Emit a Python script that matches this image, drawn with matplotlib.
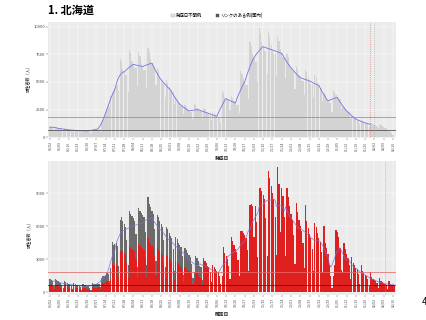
import matplotlib
matplotlib.use("Agg")
import matplotlib.pyplot as plt
from matplotlib.patches import Patch
import numpy as np
import pandas as pd

plt.rcParams['font.family'] = ['Noto Sans CJK JP', 'DejaVu Sans']

# ---------------- data ----------------
title = "1. 北海道"
ylabel = "陽性者数（人）"
xlabel_top = "発症日"
xlabel_bottom = "確定日"
legend_labels = ["発症日不明例", "リンクのある例(国内)"]
page_number = "4"

tick_labels = ["06/02", "06/09", "06/16", "06/23", "06/30", "07/07", "07/14",
               "07/21", "07/28", "08/04", "08/11", "08/18", "08/25", "09/01",
               "09/08", "09/15", "09/22", "09/29", "10/06", "10/13", "10/20",
               "10/27", "11/03", "11/10", "11/17", "11/24", "12/01", "12/08",
               "12/15", "12/22", "12/29", "01/05", "01/12", "01/19", "01/26",
               "02/02", "02/09", "02/16"]

# daily counts by onset date (from 06/02)
onset = [1000, 950, 950, 700,
         960, 920, 840, 800, 760, 760, 560,
         820, 780, 710, 680, 650, 650, 480,
         720, 690, 630, 600, 570, 570, 420,
         700, 670, 610, 580, 550, 550, 410,
         780, 760, 730, 700, 700, 720, 510,
         1300, 1600, 2000, 2300, 2600, 2900, 2700,
         3700, 4100, 4300, 4500, 4600, 4700, 4200,
         7080, 6790, 6200, 5900, 5600, 5600, 4130,
         7920, 7590, 6930, 6600, 6270, 6270, 4620,
         7680, 7360, 6720, 6400, 6080, 6080, 4480,
         8040, 7700, 7040, 6700, 6370, 6370, 4690,
         6240, 5980, 5460, 5200, 4940, 4940, 3640,
         5160, 4950, 4520, 4300, 4090, 4090, 3010,
         3600, 3450, 3150, 3000, 2850, 2850, 2100,
         2880, 2760, 2520, 2400, 2280, 2280, 1680,
         3000, 2880, 2630, 2500, 2380, 2380, 1750,
         2640, 2530, 2310, 2200, 2090, 2090, 1540,
         2280, 2190, 2000, 1900, 1810, 1810, 1330,
         4200, 4030, 3680, 3500, 3330, 3330, 2450,
         3720, 3570, 3260, 3100, 2950, 2950, 2170,
         6000, 5750, 5250, 5000, 4750, 4750, 3500,
         8640, 8280, 7560, 7200, 6840, 6840, 5040,
         9840, 9430, 8610, 8200, 7790, 7790, 5740,
         9480, 9090, 8300, 7900, 7510, 7510, 5530,
         9120, 8740, 7980, 7600, 7220, 7220, 5320,
         7560, 7250, 6620, 6300, 5990, 5990, 4410,
         6480, 6210, 5670, 5400, 5130, 5130, 3780,
         6120, 5870, 5360, 5100, 4850, 4850, 3570,
         5640, 5410, 4940, 4700, 4470, 4470, 3290,
         3960, 3800, 3470, 3300, 3140, 3140, 2310,
         4320, 4140, 3780, 3600, 3420, 3420, 2520,
         2880, 2760, 2520, 2400, 2280, 2280, 1680,
         1980, 1900, 1730, 1650, 1570, 1570, 1160,
         1560, 1500, 1370, 1300, 1240, 1240, 910,
         1300, 1250, 1200, 1150, 1100, 1050, 800,
         1200, 1100, 1000, 950, 870, 800, 600,
         700, 500, 350, 200, 60]

# daily counts by confirmation date (total)
confirmed_total = [1250, 1100, 1000, 550,
                   1190, 1100, 1010, 920, 880, 700, 350,
                   1010, 940, 860, 790, 750, 600, 300,
                   810, 750, 690, 630, 600, 480, 240,
                   730, 680, 620, 570, 540, 430, 220,
                   850, 780, 740, 760, 800, 800, 450,
                   1300, 1500, 1500, 1600, 1750, 1700, 1000,
                   2200, 4600, 4300, 4400, 4500, 4200, 2400,
                   6600, 6800, 6500, 6200, 5900, 4700, 2500,
                   7330, 7100, 6900, 6700, 6500, 5300, 2300,
                   7630, 7400, 7200, 7000, 6800, 5500, 2500,
                   8600, 8000, 7700, 7400, 7100, 5700, 2800,
                   7000, 6800, 6500, 6200, 5900, 4700, 2300,
                   5900, 5700, 5400, 5100, 4900, 3900, 1900,
                   5000, 4800, 4500, 4300, 4100, 3300, 1600,
                   4000, 3800, 3600, 3400, 3200, 2600, 1300,
                   1800, 3300, 3100, 2800, 2400, 2300, 1100,
                   3100, 2880, 2650, 2420, 2300, 1840, 920,
                   2500, 2310, 2130, 1940, 1850, 1480, 740,
                   1500, 4100, 3600, 3300, 3000, 2400, 1200,
                   5000, 4630, 4260, 3890, 3700, 2960, 1480,
                   5600, 5600, 5400, 5200, 4900, 3800, 1900,
                   7900, 8000, 7800, 5000, 7800, 6400, 3200,
                   9450, 9450, 9200, 8800, 8500, 6700, 3300,
                   10970, 10400, 9600, 9000, 8500, 6800, 3400,
                   11360, 9800, 5500, 9500, 8700, 6800, 3300,
                   9450, 8600, 7800, 7100, 6600, 5200, 2600,
                   8090, 7300, 6600, 6000, 5600, 4500, 2200,
                   7940, 6500, 5800, 5300, 4900, 3900, 1900,
                   6300, 5900, 5400, 4900, 4600, 3700, 1800,
                   6000, 4500, 4000, 3500, 2500, 1500, 400,
                   1500, 2500, 5660, 5500, 5000, 4000, 2000,
                   1800, 4450, 3900, 3500, 3100, 2500, 1200,
                   3240, 2700, 2450, 2250, 2100, 1700, 800,
                   2470, 1950, 1750, 1600, 1500, 1200, 600,
                   1870, 1400, 1230, 1130, 1050, 850, 420,
                   1300, 1020, 900, 830, 780, 630, 310,
                   1050, 800, 700, 650, 600]

# red part of confirmed counts until 09/25 (afterwards all red)
confirmed_red_early = [710, 630, 570, 310,
                       680, 630, 580, 520, 500, 400, 200,
                       580, 540, 490, 450, 430, 340, 170,
                       460, 430, 390, 360, 340, 270, 140,
                       420, 390, 350, 320, 310, 250, 130,
                       480, 440, 420, 430, 460, 460, 260,
                       740, 860, 860, 910, 1000, 970, 570,
                       1250, 2620, 2450, 2510, 2570, 2390, 1370,
                       3760, 3880, 3710, 3530, 3360, 2680, 1430,
                       4180, 4050, 3930, 3820, 3710, 3020, 1310,
                       4350, 4220, 4100, 3990, 3880, 3140, 1430,
                       4900, 4560, 4390, 4220, 4050, 3250, 1600,
                       3990, 3880, 3710, 3530, 3360, 2680, 1310,
                       3360, 3250, 3080, 2910, 2790, 2220, 1080,
                       2850, 2740, 2570, 2450, 2340, 1880, 910,
                       2280, 2170, 2050, 1940, 1820, 1480, 740,
                       1030, 1880, 1770, 1600, 1370, 1310, 630]

red_hline = 1850
dark_hline = 700
top_vlines_red = [242]
top_vlines_gray = [245]
bottom_vlines_red = [253]
top_line_end = 242

# ---------------- plot ----------------
fig = plt.figure(figsize=(4.27, 3.2), dpi=100)
bg = '#ebebeb'
tick_col = '#4d4d4d'
blue = '#7474e4'

ax1 = fig.add_axes([0.1124, 0.5678, 0.815, 0.3644])
ax2 = fig.add_axes([0.1124, 0.078, 0.815, 0.42])

x_top = np.arange(len(onset))
x_bot = np.arange(len(confirmed_total))
red_all = confirmed_red_early + confirmed_total[len(confirmed_red_early):]

for ax in (ax1, ax2):
    ax.set_facecolor(bg)
    for s in ax.spines.values():
        s.set_visible(False)
    ax.set_axisbelow(True)
    ax.grid(color='white', lw=0.35)
    ax.set_xlim(-1.5, 261.3)
    ax.set_xticks(np.arange(len(tick_labels)) * 7)
    ax.set_xticklabels(tick_labels, rotation=90)
    ax.tick_params(axis='x', labelsize=2.6, colors=tick_col, length=1.2,
                   width=0.3, pad=1)
    ax.tick_params(axis='y', labelsize=3, colors=tick_col, length=1.2,
                   width=0.3, pad=1)

# top panel
ax1.bar(x_top, onset, width=0.9, color='#d3d3d3', linewidth=0)
ma_top = pd.Series(onset).rolling(7, center=True, min_periods=4).mean()
ax1.plot(x_top[:top_line_end + 1], ma_top[:top_line_end + 1], color=blue, lw=0.6)
ax1.axhline(red_hline, color='#e86a6a', lw=0.7, alpha=0.8)
ax1.axhline(dark_hline, color='#555555', lw=0.6)
for v in top_vlines_red:
    ax1.axvline(v, color='#e06666', lw=0.5, ls=':')
for v in top_vlines_gray:
    ax1.axvline(v, color='#999999', lw=0.5, ls=':')
ax1.set_ylim(-90, 10450)
ax1.set_yticks([0, 2500, 5000, 7500, 10000])
ax1.set_ylabel(ylabel, fontsize=3, color='#222222')
ax1.yaxis.set_label_coords(-0.052, 0.52)
ax1.set_xlabel(xlabel_top, fontsize=3.4, color='#222222', fontweight='bold')
ax1.xaxis.set_label_coords(0.5, -0.155)

# bottom panel
ax2.bar(x_bot, confirmed_total, width=0.9, color='#6b6b6b', linewidth=0)
ax2.bar(x_bot, red_all, width=0.9, color='#e0201e', linewidth=0)
ma_bot = pd.Series(confirmed_total).rolling(7, center=True, min_periods=4).mean()
ax2.plot(x_bot, ma_bot, color=blue, lw=0.6, alpha=0.8)
ax2.axhline(red_hline, color='#e86a6a', lw=0.7, alpha=0.8)
ax2.axhline(dark_hline, color='#3a1010', lw=0.6, alpha=0.8)
for v in bottom_vlines_red:
    ax2.axvline(v, color='#e08080', lw=0.5, ls=':')
ax2.set_ylim(-245, 11935)
ax2.set_yticks([0, 3000, 6000, 9000])
ax2.set_ylabel(ylabel, fontsize=3, color='#222222')
ax2.yaxis.set_label_coords(-0.048, 0.46)
ax2.set_xlabel(xlabel_bottom, fontsize=3.4, color='#222222', fontweight='bold')
ax2.xaxis.set_label_coords(0.5, -0.125)

# title, legend, page number
fig.text(0.112, 0.969, title, fontsize=8, fontweight='bold', va='center', ha='left')
handles = [Patch(facecolor='#e4e4e4', edgecolor='#aaaaaa', linewidth=0.3),
           Patch(facecolor='#555555', edgecolor='#555555', linewidth=0.3)]
fig.legend(handles, legend_labels, loc='center', bbox_to_anchor=(0.508, 0.951),
           ncol=2, fontsize=3.2, frameon=False, handlelength=0.7,
           handleheight=0.7, columnspacing=3.0, handletextpad=0.3)
fig.text(0.993, 0.056, page_number, fontsize=7, ha='center', va='center')

fig.savefig("out.png", dpi=100)
